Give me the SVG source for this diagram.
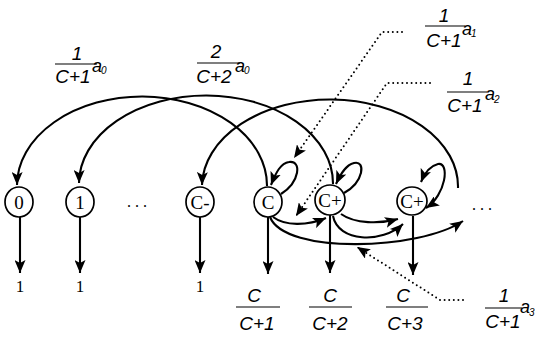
<svg xmlns="http://www.w3.org/2000/svg" width="535" height="337" viewBox="0 0 535 337">
<style>
.node{fill:#fff;stroke:#000;stroke-width:1.7}
.nt{font-family:"Liberation Serif",serif;font-size:19px;text-anchor:middle;fill:#000}
.edge{fill:none;stroke:#000;stroke-width:2.1}
.dot{fill:none;stroke:#000;stroke-width:2;stroke-dasharray:0 4.6;stroke-linecap:round}
.fr{font-family:"Liberation Sans",Arial,sans-serif;font-style:italic;font-size:19px;text-anchor:middle;fill:#000}
.ai{font-family:"Liberation Sans",Arial,sans-serif;font-style:italic;font-size:18px;fill:#000}
.sub{font-family:"Liberation Sans",Arial,sans-serif;font-style:italic;font-size:10px;fill:#000}
.fl{stroke:#000;stroke-width:1.1}
.one{font-family:"Liberation Serif",serif;font-size:17px;text-anchor:middle;fill:#000}
.dots{font-family:"Liberation Serif",serif;font-size:16px;fill:#000}
</style>
<defs>
<marker id="ah" markerUnits="userSpaceOnUse" markerWidth="14" markerHeight="11" refX="13" refY="5.5" orient="auto-start-reverse">
<path d="M0,0 L13,5.5 L0,11 L3,5.5 z" fill="#000"/>
</marker>
</defs>
<g id="connectors">
<path class="edge" d="M267,186 A125,89 0 0 0 17,185" marker-end="url(#ah)"/>
<path class="edge" d="M333,184 A127,88 0 0 0 79,183" marker-end="url(#ah)"/>
<path class="edge" d="M458,188 A128,87 0 0 0 202,185" marker-end="url(#ah)"/>
<path class="edge" d="M281,194 C300,182 302,160 289,162 C281,163 276,172 271,185" marker-end="url(#ah)"/>
<path class="edge" d="M344,193 C364,182 366,160 354,163 C346,165 341,173 336,184" marker-end="url(#ah)"/>
<path class="edge" d="M426,208 C446,195 450,162 438,164 C430,166 425,172 421,182" marker-start="url(#ah)" marker-end="url(#ah)"/>
<path class="edge" d="M273,217 C285,226 307,226 326,218" marker-end="url(#ah)"/>
<path class="edge" d="M270,217 C285,255 420,250 463,221" marker-end="url(#ah)"/>
<path class="edge" d="M341,214 C355,224 380,224 398,219" marker-end="url(#ah)"/>
<path class="edge" d="M333,216 C338,242 382,244 403,224" marker-end="url(#ah)"/>
<line class="edge" x1="20" y1="217" x2="20" y2="273" marker-end="url(#ah)"/>
<line class="edge" x1="80" y1="217" x2="80" y2="273" marker-end="url(#ah)"/>
<line class="edge" x1="200" y1="217" x2="200" y2="273" marker-end="url(#ah)"/>
<line class="edge" x1="268" y1="217" x2="268" y2="274" marker-end="url(#ah)"/>
<line class="edge" x1="330" y1="215" x2="330" y2="273" marker-end="url(#ah)"/>
<line class="edge" x1="413" y1="216" x2="413" y2="275" marker-end="url(#ah)"/>
<path class="dot" d="M402,32 L382,32 L294,158" marker-end="url(#ah)"/>
<path class="dot" d="M430,83 L387,83 L296,216" marker-end="url(#ah)"/>
<path class="dot" d="M463,300 L440,300 L357,247" marker-end="url(#ah)"/>
</g>
<g id="n0"><ellipse class="node" cx="19" cy="202" rx="14" ry="15"/><text class="nt" x="19" y="209">0</text></g>
<g id="n1"><ellipse class="node" cx="80" cy="202" rx="14" ry="15"/><text class="nt" x="80" y="209">1</text></g>
<g id="nCm1"><ellipse class="node" cx="200" cy="202" rx="14" ry="15"/><text class="nt" x="200" y="209">C-</text></g>
<g id="nC"><ellipse class="node" cx="268" cy="202" rx="14" ry="15"/><text class="nt" x="268" y="209">C</text></g>
<g id="nCp1"><ellipse class="node" cx="330" cy="200" rx="15" ry="15"/><text class="nt" x="330" y="207">C+</text></g>
<g id="nCp2"><ellipse class="node" cx="412" cy="201" rx="15" ry="14"/><text class="nt" x="412" y="208">C+</text></g>
<g id="labels">
<text class="dots" x="127" y="207">. . .</text>
<text class="dots" x="472" y="210">. . .</text>
<text class="one" x="20" y="292">1</text>
<text class="one" x="80" y="292">1</text>
<text class="one" x="200" y="292">1</text>
<text class="fr" x="254" y="302">C</text><line class="fl" x1="236" y1="307" x2="280" y2="307"/><text class="fr" x="257" y="330">C+1</text>
<text class="fr" x="330" y="302">C</text><line class="fl" x1="309" y1="307" x2="352" y2="307"/><text class="fr" x="330" y="330">C+2</text>
<text class="fr" x="403" y="302">C</text><line class="fl" x1="386" y1="307" x2="428" y2="307"/><text class="fr" x="405" y="330">C+3</text>
<text class="fr" x="77" y="60">1</text><line class="fl" x1="55" y1="64" x2="97" y2="64"/><text class="fr" x="73" y="83">C+1</text><text class="ai" x="92" y="72">a</text><text class="sub" x="101" y="74">0</text>
<text class="fr" x="216" y="58">2</text><line class="fl" x1="197" y1="63" x2="240" y2="63"/><text class="fr" x="214" y="83">C+2</text><text class="ai" x="235" y="72">a</text><text class="sub" x="244" y="74">0</text>
<text class="fr" x="444" y="22">1</text><line class="fl" x1="425" y1="26" x2="465" y2="26"/><text class="fr" x="444" y="47">C+1</text><text class="ai" x="462" y="35">a</text><text class="sub" x="471" y="37">1</text>
<text class="fr" x="468" y="85">1</text><line class="fl" x1="447" y1="92" x2="487" y2="92"/><text class="fr" x="465" y="112">C+1</text><text class="ai" x="485" y="100">a</text><text class="sub" x="494" y="103">2</text>
<text class="fr" x="504" y="302">1</text><line class="fl" x1="485" y1="308" x2="522" y2="308"/><text class="fr" x="503" y="328">C+1</text><text class="ai" x="520" y="313">a</text><text class="sub" x="529" y="316">3</text>
</g>
</svg>
